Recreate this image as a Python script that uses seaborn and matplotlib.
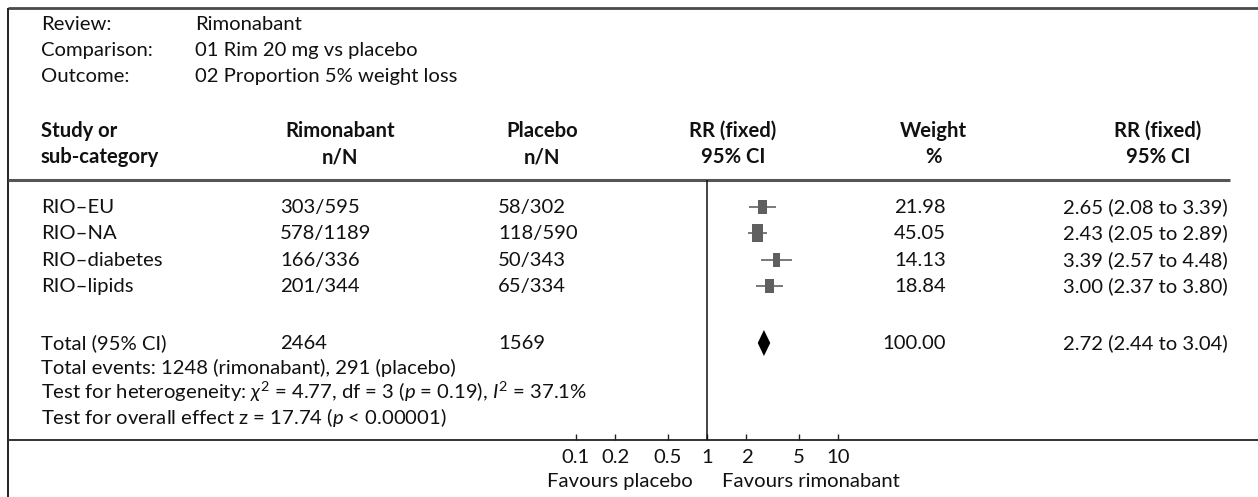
import matplotlib
matplotlib.use("Agg")
import matplotlib.pyplot as plt
import seaborn as sns
import pandas as pd
import numpy as np
from matplotlib.path import Path

# ---------------- data ----------------
review = "Rimonabant"
comparison = "01 Rim 20 mg vs placebo"
outcome = "02 Proportion 5% weight loss"

studies = ["RIO\u2013EU", "RIO\u2013NA", "RIO\u2013diabetes", "RIO\u2013lipids"]
rim_events = [303, 578, 166, 201]
rim_total = [595, 1189, 336, 344]
pla_events = [58, 118, 50, 65]
pla_total = [302, 590, 343, 334]
rr = [2.65, 2.43, 3.39, 3.00]
rr_lo = [2.08, 2.05, 2.57, 2.37]
rr_hi = [3.39, 2.89, 4.48, 3.80]
weights = [21.98, 45.05, 14.13, 18.84]

total_rim_N = 2464
total_pla_N = 1569
total_rim_events = 1248
total_pla_events = 291
total_weight = 100.00
total_rr, total_lo, total_hi = 2.72, 2.44, 3.04

het_chi2, het_df, het_p, het_i2 = 4.77, 3, 0.19, 37.1
overall_z = 17.74

tick_values = [0.1, 0.2, 0.5, 1, 2, 5, 10]
tick_labels = ["0.1", "0.2", "0.5", "1", "2", "5", "10"]

# ---------------- style ----------------
sns.set_theme(style="white")
plt.rcParams["font.family"] = ["Lato", "DejaVu Sans"]
plt.rcParams["mathtext.fontset"] = "custom"
plt.rcParams["mathtext.rm"] = "Lato"
plt.rcParams["mathtext.it"] = "Lato:italic"
plt.rcParams["mathtext.bf"] = "Lato:bold"

FS = 14.6
TXT = "#111111"
W, H = 1258, 497
fig = plt.figure(figsize=(W / 100, H / 100), dpi=100)

bg = fig.add_axes([0, 0, 1, 1])
bg.set_xlim(0, W)
bg.set_ylim(H, 0)
bg.axis("off")

def t(x, y, s, ha="left", bold=False, **kw):
    bg.text(x, y, s, ha=ha, va="baseline", fontsize=FS, color=TXT,
            fontweight="bold" if bold else "normal", **kw)

# frame lines
bg.plot([8, W], [8, 8], color="#4a4a4a", lw=2.0, solid_capstyle="butt")
bg.plot([8, 8], [8, H], color="#222222", lw=1.4, solid_capstyle="butt")
bg.plot([8, 1230], [180, 180], color="#555555", lw=2.2, solid_capstyle="butt")
bg.plot([8, W], [440, 440], color="#333333", lw=1.4, solid_capstyle="butt")

# header info
for yy, lab, val in [(30, "Review:", review), (56, "Comparison:", comparison),
                     (82, "Outcome:", outcome)]:
    t(41, yy, lab)
    t(195, yy, val)

# column headers
t(41, 137, "Study or", bold=True)
t(41, 163, "sub-category", bold=True)
for cx, l1, l2 in [(340, "Rimonabant", "n/N"), (542, "Placebo", "n/N"),
                   (733, "RR (fixed)", "95% CI"), (933, "Weight", "%"),
                   (1158, "RR (fixed)", "95% CI")]:
    t(cx, 137, l1, ha="center", bold=True)
    t(cx, 163, l2, ha="center", bold=True)

row_base = [213, 239, 266, 292]
row_mid = [207, 233, 260, 286]
for i, s in enumerate(studies):
    yb = row_base[i]
    t(41, yb, s)
    t(280, yb, f"{rim_events[i]}/{rim_total[i]}")
    t(498, yb, f"{pla_events[i]}/{pla_total[i]}")
    t(946, yb, f"{weights[i]:.2f}", ha="right")
    t(1063, yb, f"{rr[i]:.2f} ({rr_lo[i]:.2f} to {rr_hi[i]:.2f})")

ytot_b, ytot_m = 349, 343
t(41, ytot_b, "Total (95% CI)")
t(280, ytot_b, f"{total_rim_N}")
t(498, ytot_b, f"{total_pla_N}")
t(946, ytot_b, f"{total_weight:.2f}", ha="right")
t(1063, ytot_b, f"{total_rr:.2f} ({total_lo:.2f} to {total_hi:.2f})")

t(41, 374, f"Total events: {total_rim_events} (rimonabant), {total_pla_events} (placebo)")
t(41, 399, "Test for heterogeneity: $\\chi^2$ = " + f"{het_chi2:.2f}, df = {het_df} ("
  + "$\\it{p}$" + f" = {het_p:.2f}), " + "$\\it{I}^2$" + f" = {het_i2:.1f}%")
t(41, 424, f"Test for overall effect z = {overall_z:.2f} (" + "$\\it{p}$" + " < 0.00001)")

t(693, 487, "Favours placebo", ha="right")
t(722, 487, "Favours rimonabant", ha="left")

# ---------------- forest axes ----------------
x0, x1 = 576, 838
ytop, ybot = 180, 440
fa = fig.add_axes([x0 / W, (H - ybot) / H, (x1 - x0) / W, (ybot - ytop) / H])
fa.set_xscale("log")
fa.set_xlim(0.1, 10)
fa.set_ylim(ybot, ytop)
fa.patch.set_alpha(0)
for sp in fa.spines.values():
    sp.set_visible(False)
fa.set_yticks([])
fa.set_xticks(tick_values)
fa.set_xticklabels(tick_labels)
fa.minorticks_off()
fa.tick_params(axis="x", direction="in", length=4, width=1.0, color="#222222",
               labelsize=FS, labelcolor=TXT, pad=6.5, bottom=True)
fa.axvline(1, color="#111111", lw=1.1)

df = pd.DataFrame({"rr": rr, "lo": rr_lo, "hi": rr_hi, "w": weights, "y": row_mid})
fa.hlines(df["y"], df["lo"], df["hi"], color="#555555", lw=1.1, zorder=2)
rect = Path([(-0.29, -0.5), (0.29, -0.5), (0.29, 0.5), (-0.29, 0.5), (-0.29, -0.5)],
            [Path.MOVETO, Path.LINETO, Path.LINETO, Path.LINETO, Path.CLOSEPOLY])
sns.scatterplot(data=df, x="rr", y="y", size="w", sizes=(90, 170),
                marker=rect, color="#5f5f5f", edgecolor="none", linewidth=0,
                legend=False, ax=fa, zorder=3)
fa.set_xlabel("")
fa.set_ylabel("")

dh = 13
fa.fill([total_lo, total_rr, total_hi, total_rr],
        [ytot_m, ytot_m - dh, ytot_m, ytot_m + dh], color="black", lw=0, zorder=3)

fig.savefig("out.png", dpi=100)
